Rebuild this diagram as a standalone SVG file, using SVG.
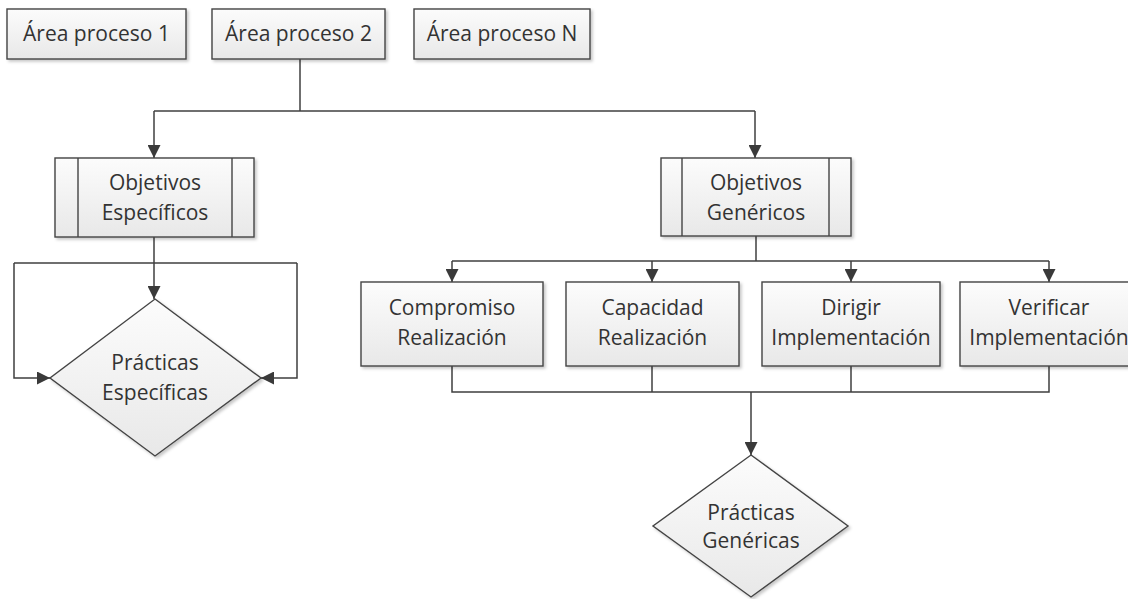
<svg xmlns="http://www.w3.org/2000/svg" width="1128" height="599" viewBox="0 0 1128 599">
  <defs>
    <linearGradient id="boxFill" x1="0" y1="0" x2="0" y2="1">
      <stop offset="0" stop-color="#fcfcfc"/>
      <stop offset="1" stop-color="#e8e8e8"/>
    </linearGradient>
    <filter id="shadow" x="-10%" y="-10%" width="130%" height="130%">
      <feDropShadow dx="2" dy="2" stdDeviation="1.5" flood-color="#000" flood-opacity="0.22"/>
    </filter>
    <marker id="arrow" viewBox="0 0 12 12" refX="12" refY="6" markerWidth="13" markerHeight="13" markerUnits="userSpaceOnUse" orient="auto">
      <path d="M0,0 L12,6 L0,12 Z" fill="#3a3a3a"/>
    </marker>
  </defs>
  <style>
    .shape { fill: url(#boxFill); stroke: #444; stroke-width: 1.4; filter: url(#shadow); }
    .div { stroke: #444; stroke-width: 1.4; fill: none; }
    .lbl { font-family: "Open Sans", "Liberation Sans", sans-serif; font-size: 21px; fill: #333333; text-anchor: middle; }
    .conn { fill: none; stroke: #3f3f3f; stroke-width: 1.5; }
  </style>
  <rect width="1128" height="599" fill="#ffffff"/>

  <!-- connectors -->
  <g id="connectors">
    <path class="conn" d="M300,59 V111"/>
    <path class="conn" d="M154,111 H755"/>
    <path class="conn" d="M154,111 V158" marker-end="url(#arrow)"/>
    <path class="conn" d="M755,111 V158" marker-end="url(#arrow)"/>
    <!-- specific goals to specific practices, with loop back -->
    <path class="conn" d="M154,237 V299" marker-end="url(#arrow)"/>
    <path class="conn" d="M14,263 H297"/>
    <path class="conn" d="M14,263 V378 H50" marker-end="url(#arrow)"/>
    <path class="conn" d="M297,263 V378 H261" marker-end="url(#arrow)"/>
    <!-- generic goals fan-out -->
    <path class="conn" d="M756,236 V261"/>
    <path class="conn" d="M452,261 H1049"/>
    <path class="conn" d="M452,261 V282" marker-end="url(#arrow)"/>
    <path class="conn" d="M652,261 V282" marker-end="url(#arrow)"/>
    <path class="conn" d="M851,261 V282" marker-end="url(#arrow)"/>
    <path class="conn" d="M1049,261 V282" marker-end="url(#arrow)"/>
    <!-- fan-in to generic practices -->
    <path class="conn" d="M452,366 V392 H1049 V366"/>
    <path class="conn" d="M652,366 V392"/>
    <path class="conn" d="M851,366 V392"/>
    <path class="conn" d="M751,392 V455" marker-end="url(#arrow)"/>
  </g>

  <!-- process areas -->
  <g id="area1">
    <rect class="shape" x="7" y="9" width="179" height="50"/>
    <text class="lbl" x="96.5" y="41">Área proceso 1</text>
  </g>
  <g id="area2">
    <rect class="shape" x="212" y="9" width="173" height="50"/>
    <text class="lbl" x="298.5" y="41">Área proceso 2</text>
  </g>
  <g id="areaN">
    <rect class="shape" x="414" y="9" width="176" height="50"/>
    <text class="lbl" x="502" y="41">Área proceso N</text>
  </g>

  <!-- goals (predefined process shapes) -->
  <g id="objetivos-especificos">
    <rect class="shape" x="55" y="158" width="199" height="79"/>
    <path class="div" d="M78,158 V237 M232,158 V237"/>
    <text class="lbl" x="155" y="190">Objetivos</text>
    <text class="lbl" x="155" y="220">Específicos</text>
  </g>
  <g id="objetivos-genericos">
    <rect class="shape" x="661" y="158" width="190" height="78"/>
    <path class="div" d="M682,158 V236 M829,158 V236"/>
    <text class="lbl" x="756" y="190">Objetivos</text>
    <text class="lbl" x="756" y="220">Genéricos</text>
  </g>

  <!-- practices (decision shapes) -->
  <g id="practicas-especificas">
    <polygon class="shape" points="155,299 261,378 155,456 50,378"/>
    <text class="lbl" x="155" y="370">Prácticas</text>
    <text class="lbl" x="155" y="400">Específicas</text>
  </g>
  <g id="practicas-genericas">
    <polygon class="shape" points="751,455 848,526 751,597 653,526"/>
    <text class="lbl" x="751" y="520">Prácticas</text>
    <text class="lbl" x="751" y="548">Genéricas</text>
  </g>

  <!-- generic goal activities -->
  <g id="compromiso">
    <rect class="shape" x="361" y="282" width="182" height="84"/>
    <text class="lbl" x="452" y="315">Compromiso</text>
    <text class="lbl" x="452" y="345">Realización</text>
  </g>
  <g id="capacidad">
    <rect class="shape" x="566" y="282" width="173" height="84"/>
    <text class="lbl" x="652.5" y="315">Capacidad</text>
    <text class="lbl" x="652.5" y="345">Realización</text>
  </g>
  <g id="dirigir">
    <rect class="shape" x="762" y="282" width="178" height="84"/>
    <text class="lbl" x="851" y="315">Dirigir</text>
    <text class="lbl" x="851" y="345">Implementación</text>
  </g>
  <g id="verificar">
    <rect class="shape" x="960" y="282" width="178" height="84"/>
    <text class="lbl" x="1049" y="315">Verificar</text>
    <text class="lbl" x="1049" y="345">Implementación</text>
  </g>
</svg>
